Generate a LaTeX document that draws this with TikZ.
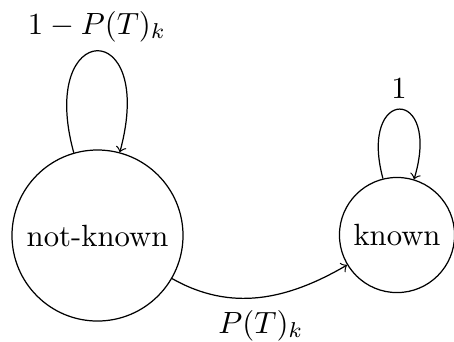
\documentclass[tikz,border=0pt]{standalone}
\begin{document}
\begin{tikzpicture}[x=0.3257pt,y=-0.3257pt,
  state/.style={draw,circle,inner sep=3.33pt},
  lbl/.style={anchor=base,inner sep=0pt}]
\useasboundingbox (0,0) rectangle (454,341);
\node[state,minimum size=55.7pt] (nk) at (97.5,235.5) {not-known};
\node[state,minimum size=37.5pt] (kn) at (397,235) {known};
\draw[->] (nk.106) .. controls (37,19) and (157,15) .. (nk.75);
\draw[->] (kn.104) .. controls (358,86) and (442,86) .. (kn.73);
\draw[->] (nk.-30) .. controls (231,312) and (287,300) .. (kn.211);
\node[lbl] (l1) at (97,34) {$1-P(T)_k$};
\node[lbl] (l2) at (399,98) {$1$};
\node[lbl] (l3) at (261,333) {$P(T)_k$};
\end{tikzpicture}
\end{document}
